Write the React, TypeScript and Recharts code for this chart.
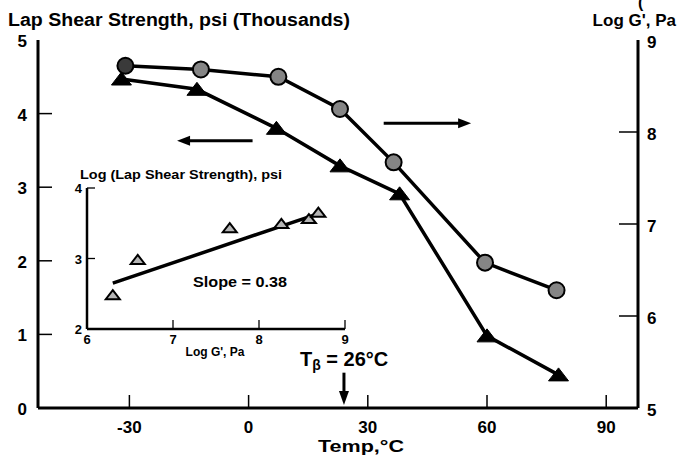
import React from 'react';
import {
  ComposedChart,
  ScatterChart,
  Line,
  Scatter,
  XAxis,
  YAxis,
  ReferenceLine,
  ReferenceDot
} from 'recharts';

// main plot: lap shear (left axis, thousands psi) and log G' (right axis) vs temperature
const shearTemps = [-32, -13, 7, 23, 38, 60, 78];
const shearValues = [4.47, 4.33, 3.8, 3.29, 2.91, 0.98, 0.45];
const modTemps = [-31, -12, 7.5, 23, 36.5, 59.5, 77.5];
const modValues = [8.72, 8.68, 8.6, 8.25, 7.67, 6.58, 6.28];

const tempTicks = [-30, 0, 30, 60, 90];
const shearTicks = [0, 1, 2, 3, 4, 5];
const modTicks = [5, 6, 7, 8, 9];

// inset: log lap shear vs log G'
const insetLogG = [6.3, 6.59, 7.66, 8.26, 8.58, 8.69];
const insetLogShear = [2.48, 2.98, 3.43, 3.49, 3.56, 3.65];
const fitLogG = [6.3, 8.65];
const fitLogShear = [2.65, 3.62];
const insetXTicks = [6, 7, 8, 9];
const insetYTicks = [2, 3, 4];

const tBeta = 24;

const shearData = shearTemps.map((t, i) => ({ t, v: shearValues[i] }));
const modData = modTemps.map((t, i) => ({ t, v: modValues[i] }));
const insetData = insetLogG.map((g, i) => ({ g, s: insetLogShear[i] }));

const FONT = '"Liberation Sans", Arial, sans-serif';

const BottomTick = ({ x, y, payload }: any) => (
  <g>
    <line x1={x} x2={x} y1={y} y2={y - 13} stroke="#000" strokeWidth={1.5} />
    <text x={x} y={y + 25} textAnchor="middle" fontFamily={FONT} fontWeight="bold" fontSize={17} fill="#000">
      {payload.value}
    </text>
  </g>
);

const LeftTick = ({ x, y, payload }: any) => (
  <g>
    {payload.value !== 0 && payload.value !== 5 && (
      <line x1={x} x2={x + 14} y1={y} y2={y} stroke="#000" strokeWidth={1.5} />
    )}
    <text x={x - 11} y={y + 7} textAnchor="end" fontFamily={FONT} fontWeight="bold" fontSize={17} fill="#000">
      {payload.value}
    </text>
  </g>
);

const RightTick = ({ x, y, payload }: any) => (
  <g>
    {payload.value !== 5 && payload.value !== 9 && (
      <line x1={x - 19} x2={x} y1={y} y2={y} stroke="#000" strokeWidth={1.5} />
    )}
    <text x={x + 9} y={y + 8} textAnchor="start" fontFamily={FONT} fontWeight="bold" fontSize={17} fill="#000">
      {payload.value}
    </text>
  </g>
);

const InsetXTick = ({ x, y, payload }: any) => (
  <g>
    <line x1={x} x2={x} y1={y} y2={y - 9} stroke="#000" strokeWidth={1.3} />
    <text x={x} y={y + 15} textAnchor="middle" fontFamily={FONT} fontWeight="bold" fontSize={13} fill="#000">
      {payload.value}
    </text>
  </g>
);

const InsetYTick = ({ x, y, payload }: any) => (
  <g>
    <line x1={x} x2={x + 8} y1={y} y2={y} stroke="#000" strokeWidth={1.3} />
    <text x={x - 5} y={y + 5} textAnchor="end" fontFamily={FONT} fontWeight="bold" fontSize={13} fill="#000">
      {payload.value}
    </text>
  </g>
);

const Circle = ({ cx, cy, index }: any) => (
  <circle key={index} cx={cx} cy={cy} r={8} fill={index === 0 ? '#3a3a3a' : '#858585'} stroke="#000" strokeWidth={2} />
);

const Triangle = ({ cx, cy, index }: any) => (
  <polygon
    key={index}
    points={`${cx},${cy - 7} ${cx + 10},${cy + 6} ${cx - 10},${cy + 6}`}
    fill="#000"
    stroke="#000"
    strokeWidth={1}
  />
);

const HollowTriangle = ({ cx, cy, index }: any) => (
  <polygon
    key={index}
    points={`${cx},${cy - 5} ${cx + 7},${cy + 4} ${cx - 7},${cy + 4}`}
    fill="#b5b5b5"
    stroke="#000"
    strokeWidth={2}
  />
);

const HeadLeft = ({ cx, cy }: any) => (
  <polygon points={`${cx},${cy} ${cx + 13},${cy - 5} ${cx + 13},${cy + 5}`} fill="#000" />
);
const HeadRight = ({ cx, cy }: any) => (
  <polygon points={`${cx},${cy} ${cx - 13},${cy - 5} ${cx - 13},${cy + 5}`} fill="#000" />
);
const HeadDown = ({ cx, cy }: any) => (
  <polygon points={`${cx},${cy} ${cx - 5},${cy - 14} ${cx + 5},${cy - 14}`} fill="#000" />
);

const bold = { fontFamily: FONT, fontWeight: 'bold' as const, fill: '#000' };

export default function App() {
  return (
    <div style={{ position: 'fixed', left: 0, top: 0, width: 678, height: 456, background: '#fff' }}>
      <div style={{ position: 'absolute', left: 0, top: 0 }}>
        <ComposedChart width={678} height={456} margin={{ top: 40, right: 0, bottom: 0, left: 0 }}>
          <XAxis
            xAxisId="b"
            type="number"
            dataKey="t"
            domain={[-53, 98]}
            ticks={tempTicks}
            height={48}
            tickSize={0}
            tickMargin={0}
            tickLine={false}
            axisLine={{ stroke: '#000', strokeWidth: 3 }}
            tick={(p: any) => <BottomTick {...p} />}
            allowDataOverflow
          />
          <XAxis
            xAxisId="top"
            orientation="top"
            type="number"
            domain={[-53, 98]}
            height={0}
            tick={false}
            tickLine={false}
            axisLine={{ stroke: '#000', strokeWidth: 2.5 }}
          />
          <YAxis
            yAxisId="l"
            type="number"
            domain={[0, 5]}
            ticks={shearTicks}
            width={38}
            tickSize={0}
            tickMargin={0}
            tickLine={false}
            axisLine={{ stroke: '#000', strokeWidth: 3 }}
            tick={(p: any) => <LeftTick {...p} />}
          />
          <YAxis
            yAxisId="r"
            orientation="right"
            type="number"
            domain={[5, 9]}
            ticks={modTicks}
            width={40}
            tickSize={0}
            tickMargin={0}
            tickLine={false}
            axisLine={{ stroke: '#000', strokeWidth: 3 }}
            tick={(p: any) => <RightTick {...p} />}
          />
          <Line
            xAxisId="b"
            yAxisId="l"
            data={shearData}
            dataKey="v"
            stroke="#000"
            strokeWidth={3.5}
            dot={(p: any) => <Triangle key={p.index} {...p} />}
            activeDot={false}
            isAnimationActive={false}
          />
          <Line
            xAxisId="b"
            yAxisId="r"
            data={modData}
            dataKey="v"
            stroke="#000"
            strokeWidth={3.5}
            dot={(p: any) => <Circle key={p.index} {...p} />}
            activeDot={false}
            isAnimationActive={false}
          />
          {/* direction arrows */}
          <ReferenceLine
            xAxisId="b"
            yAxisId="l"
            segment={[{ x: -15, y: 3.63 }, { x: 1, y: 3.63 }]}
            stroke="#000"
            strokeWidth={3}
          />
          <ReferenceDot xAxisId="b" yAxisId="l" x={-18} y={3.63} r={0} shape={(p: any) => <HeadLeft {...p} />} />
          <ReferenceLine
            xAxisId="b"
            yAxisId="l"
            segment={[{ x: 34, y: 3.87 }, { x: 53, y: 3.87 }]}
            stroke="#000"
            strokeWidth={3}
          />
          <ReferenceDot xAxisId="b" yAxisId="l" x={56} y={3.87} r={0} shape={(p: any) => <HeadRight {...p} />} />
          {/* T beta marker */}
          <ReferenceLine
            xAxisId="b"
            yAxisId="l"
            segment={[{ x: tBeta, y: 0.48 }, { x: tBeta, y: 0.15 }]}
            stroke="#000"
            strokeWidth={3}
          />
          <ReferenceDot xAxisId="b" yAxisId="l" x={tBeta} y={0.04} r={0} shape={(p: any) => <HeadDown {...p} />} />
        </ComposedChart>
      </div>

      <div style={{ position: 'absolute', left: 60, top: 160 }}>
        <ScatterChart width={300} height={200} margin={{ top: 28, right: 15, bottom: 0, left: 0 }}>
          <XAxis
            xAxisId="b"
            type="number"
            dataKey="g"
            domain={[6, 9]}
            ticks={insetXTicks}
            height={31}
            tickSize={0}
            tickMargin={0}
            tickLine={false}
            axisLine={{ stroke: '#000', strokeWidth: 2.5 }}
            tick={(p: any) => <InsetXTick {...p} />}
          />
          <XAxis
            xAxisId="top"
            orientation="top"
            type="number"
            domain={[6, 9]}
            height={0}
            tick={false}
            tickLine={false}
            axisLine={{ stroke: '#000', strokeWidth: 2.5 }}
          />
          <YAxis
            yAxisId="l"
            type="number"
            dataKey="s"
            domain={[2, 4]}
            ticks={insetYTicks}
            width={27}
            tickSize={0}
            tickMargin={0}
            tickLine={false}
            axisLine={{ stroke: '#000', strokeWidth: 2.5 }}
            tick={(p: any) => <InsetYTick {...p} />}
          />
          <YAxis
            yAxisId="r"
            orientation="right"
            type="number"
            domain={[2, 4]}
            width={0}
            tick={false}
            tickLine={false}
            axisLine={{ stroke: '#000', strokeWidth: 2.5 }}
          />
          <ReferenceLine
            xAxisId="b"
            yAxisId="l"
            segment={[
              { x: fitLogG[0], y: fitLogShear[0] },
              { x: fitLogG[1], y: fitLogShear[1] }
            ]}
            stroke="#000"
            strokeWidth={3.5}
          />
          <Scatter
            xAxisId="b"
            yAxisId="l"
            data={insetData}
            shape={(p: any) => <HollowTriangle {...p} />}
            isAnimationActive={false}
          />
        </ScatterChart>
      </div>

      <svg width={678} height={456} style={{ position: 'absolute', left: 0, top: 0, pointerEvents: 'none' }}>
        <text x={8} y={26} fontSize={18} textLength={342} lengthAdjust="spacingAndGlyphs" {...bold}>
          Lap Shear Strength, psi (Thousands)
        </text>
        <text x={676} y={26} fontSize={17} textAnchor="end" {...bold}>Log G', Pa</text>
        <text x={638} y={8} fontSize={16} {...bold}>(</text>
        <text x={361} y={452} fontSize={16} textAnchor="middle" textLength={86} lengthAdjust="spacingAndGlyphs" {...bold}>
          Temp,°C
        </text>
        <text x={80} y={179} fontSize={12.5} textLength={202} lengthAdjust="spacingAndGlyphs" {...bold}>
          Log (Lap Shear Strength), psi
        </text>
        <text x={215} y={356} fontSize={12} textAnchor="middle" {...bold}>Log G', Pa</text>
        <text x={193} y={287} fontSize={14} textLength={94} lengthAdjust="spacingAndGlyphs" {...bold}>
          Slope = 0.38
        </text>
        <text x={300} y={366} fontFamily={FONT} fontWeight="bold" fontSize={20} fill="#000">
          T
          <tspan fontSize={14} dy={4}>β</tspan>
          <tspan dy={-4}> = 26°C</tspan>
        </text>
      </svg>
    </div>
  );
}
